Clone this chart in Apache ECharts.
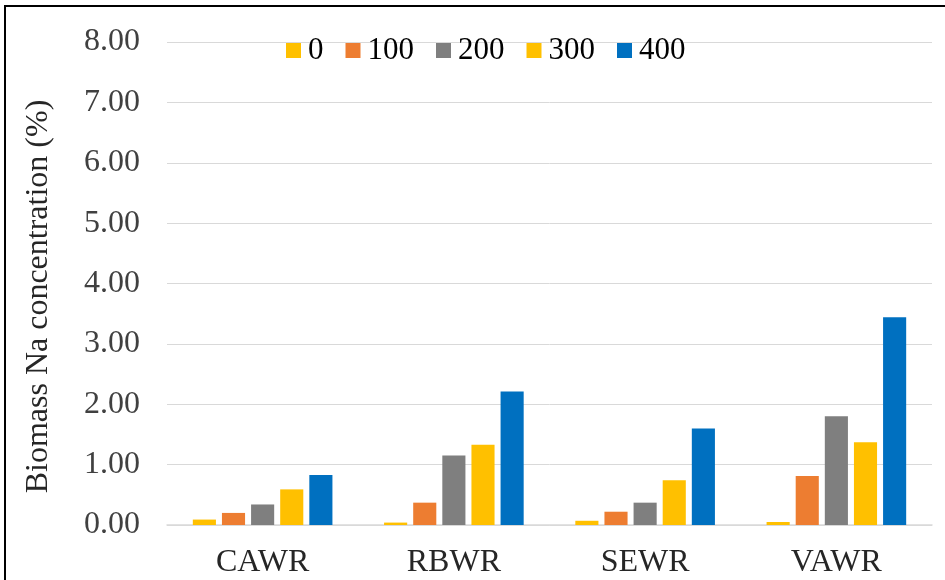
<!DOCTYPE html>
<html>
<head>
<meta charset="utf-8">
<script src="https://cdn.jsdelivr.net/npm/echarts@6/dist/echarts.min.js"></script>
<style>
  html, body { margin: 0; padding: 0; background: #fff; }
  #chart { width: 945px; height: 580px; }
</style>
</head>
<body>
<div id="chart"></div>
<script>
// Water-regime groups and NaCl treatment levels
const categories = ['CAWR', 'RBWR', 'SEWR', 'VAWR'];
const seriesNames = ['0', '100', '200', '300', '400'];

// Biomass Na concentration (%) per treatment level
const na0   = [0.09, 0.04, 0.07, 0.05];
const na100 = [0.20, 0.37, 0.22, 0.81];
const na200 = [0.34, 1.15, 0.37, 1.80];
const na300 = [0.59, 1.33, 0.74, 1.37];
const na400 = [0.83, 2.21, 1.60, 3.44];

const yTicks = [0, 1, 2, 3, 4, 5, 6, 7, 8];

const values = [na0, na100, na200, na300, na400];
const colors = ['#FFC000', '#ED7D31', '#7F7F7F', '#FFC000', '#0070C0'];
const serif = 'Liberation Serif, Times New Roman, serif';

const chart = echarts.init(document.getElementById('chart'));
chart.setOption({
  animation: false,
  backgroundColor: '#fff',
  graphic: [{
    type: 'rect',
    shape: { x: 5, y: 6, width: 960, height: 600 },
    style: { fill: 'none', stroke: '#000', lineWidth: 2 },
    silent: true
  }],
  legend: {
    data: seriesNames,
    top: 30,
    left: 281,
    itemWidth: 15,
    itemHeight: 15,
    itemGap: 22,
    icon: 'rect',
    textStyle: { fontFamily: serif, fontSize: 31, color: '#000', padding: [0, 0, 0, 2] }
  },
  grid: { left: 167, right: 13, top: 42, bottom: 55 },
  xAxis: {
    type: 'category',
    data: categories,
    axisLine: { lineStyle: { color: '#D9D9D9', width: 1.5 } },
    axisTick: { show: false },
    axisLabel: { fontFamily: serif, fontSize: 32, color: '#262626', margin: 22 }
  },
  yAxis: {
    type: 'value',
    min: yTicks[0],
    max: yTicks[yTicks.length - 1],
    interval: 1,
    name: 'Biomass Na concentration (%)',
    nameLocation: 'middle',
    nameGap: 112,
    nameTextStyle: { fontFamily: serif, fontSize: 32, color: '#262626', padding: [0, 26, 0, 0] },
    axisLine: { show: false },
    axisTick: { show: false },
    splitLine: { lineStyle: { color: '#D9D9D9', width: 1 } },
    axisLabel: {
      fontFamily: serif, fontSize: 32, color: '#404040', margin: 27,
      formatter: v => v.toFixed(2)
    }
  },
  series: seriesNames.map((name, i) => ({
    name,
    type: 'bar',
    data: values[i],
    barGap: '26%',
    barCategoryGap: '27%',
    itemStyle: { color: colors[i] }
  }))
});
</script>
</body>
</html>
